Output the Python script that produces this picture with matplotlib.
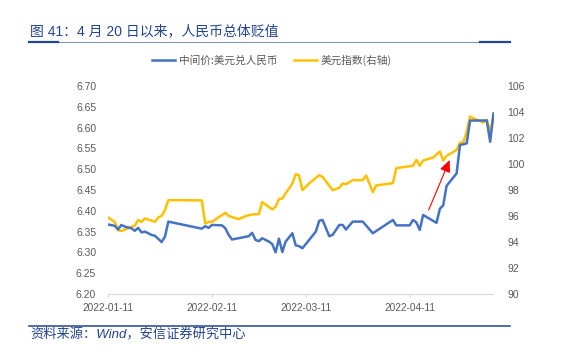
import matplotlib
matplotlib.use("Agg")
import matplotlib.pyplot as plt
import matplotlib.dates as mdates
from matplotlib.lines import Line2D
import pandas as pd

plt.rcParams['font.family'] = ['Liberation Sans', 'Noto Sans CJK SC', 'DejaVu Sans']

# 中间价: 美元兑人民币 (left axis)
cny_dates = [
    "2022-01-11", "2022-01-13", "2022-01-14", "2022-01-15", "2022-01-16", "2022-01-18",
    "2022-01-19", "2022-01-20", "2022-01-21", "2022-01-22", "2022-01-24", "2022-01-25",
    "2022-01-27", "2022-01-28", "2022-01-29", "2022-02-08", "2022-02-09", "2022-02-10",
    "2022-02-11", "2022-02-14", "2022-02-15", "2022-02-16", "2022-02-17", "2022-02-22",
    "2022-02-23", "2022-02-24", "2022-02-25", "2022-02-26", "2022-02-28", "2022-03-01",
    "2022-03-02", "2022-03-03", "2022-03-04", "2022-03-05", "2022-03-07", "2022-03-08",
    "2022-03-09", "2022-03-10", "2022-03-12", "2022-03-14", "2022-03-15", "2022-03-16",
    "2022-03-18", "2022-03-19", "2022-03-21", "2022-03-22", "2022-03-23", "2022-03-25",
    "2022-03-28", "2022-03-31", "2022-04-06", "2022-04-07", "2022-04-11", "2022-04-12",
    "2022-04-13", "2022-04-14", "2022-04-15", "2022-04-19", "2022-04-20", "2022-04-21",
    "2022-04-22", "2022-04-25", "2022-04-26", "2022-04-27", "2022-04-28", "2022-04-29",
    "2022-05-04", "2022-05-05", "2022-05-06",
]
cny_values = [
    6.367, 6.364, 6.355, 6.366, 6.362, 6.358,
    6.352, 6.359, 6.348, 6.350, 6.342, 6.340,
    6.325, 6.338, 6.374, 6.357, 6.363, 6.359,
    6.366, 6.365, 6.358, 6.342, 6.331, 6.339,
    6.347, 6.330, 6.327, 6.334, 6.326, 6.320,
    6.300, 6.333, 6.301, 6.326, 6.346, 6.317,
    6.315, 6.310, 6.330, 6.350, 6.376, 6.378,
    6.339, 6.342, 6.366, 6.366, 6.355, 6.374,
    6.374, 6.346, 6.378, 6.365, 6.365, 6.378,
    6.372, 6.354, 6.390, 6.371, 6.405, 6.413,
    6.460, 6.490, 6.558, 6.560, 6.562, 6.617,
    6.617, 6.566, 6.634,
]

# 美元指数 (right axis)
dxy_dates = [
    "2022-01-11", "2022-01-13", "2022-01-14", "2022-01-15", "2022-01-18", "2022-01-19",
    "2022-01-20", "2022-01-21", "2022-01-22", "2022-01-25", "2022-01-26", "2022-01-27",
    "2022-01-28", "2022-01-29", "2022-02-08", "2022-02-09", "2022-02-10", "2022-02-11",
    "2022-02-15", "2022-02-16", "2022-02-19", "2022-02-21", "2022-02-23", "2022-02-25",
    "2022-02-26", "2022-03-01", "2022-03-02", "2022-03-03", "2022-03-04", "2022-03-05",
    "2022-03-07", "2022-03-08", "2022-03-09", "2022-03-10", "2022-03-12", "2022-03-15",
    "2022-03-16", "2022-03-19", "2022-03-21", "2022-03-22", "2022-03-23", "2022-03-25",
    "2022-03-28", "2022-03-29", "2022-03-31", "2022-04-01", "2022-04-06", "2022-04-07",
    "2022-04-09", "2022-04-12", "2022-04-13", "2022-04-14", "2022-04-15", "2022-04-18",
    "2022-04-20", "2022-04-21", "2022-04-22", "2022-04-25", "2022-04-26", "2022-04-27",
    "2022-04-28", "2022-04-29", "2022-04-30", "2022-05-03", "2022-05-04", "2022-05-05",
    "2022-05-06",
]
dxy_values = [
    95.89, 95.55, 94.92, 94.84, 95.17, 95.25,
    95.69, 95.55, 95.81, 95.55, 95.89, 96.01,
    96.45, 97.22, 97.20, 95.43, 95.55, 95.55,
    96.25, 96.00, 95.76, 95.99, 96.12, 96.14,
    97.07, 96.51, 96.71, 97.30, 97.35, 97.74,
    98.50, 99.22, 99.12, 97.99, 98.50, 99.14,
    99.01, 97.99, 98.17, 98.50, 98.45, 98.76,
    98.76, 99.12, 97.84, 98.35, 98.53, 99.68,
    99.76, 99.86, 100.32, 99.86, 100.27, 100.50,
    100.96, 100.27, 100.62, 101.08, 101.65, 101.65,
    102.50, 103.65, 103.52, 103.19, 103.40, 102.50,
    103.60,
]

x_ticks = ["2022-01-11", "2022-02-11", "2022-03-11", "2022-04-11"]
left_ticks = [6.20, 6.25, 6.30, 6.35, 6.40, 6.45, 6.50, 6.55, 6.60, 6.65, 6.70]
right_ticks = [90, 92, 94, 96, 98, 100, 102, 104, 106]

title = "图 41：4 月 20 日以来，人民币总体贬值"
source = "资料来源：Wind，安信证券研究中心"
cny_label = "中间价:美元兑人民币"
dxy_label = "美元指数(右轴)"

# annotation arrow (tail -> head), in date / left-axis units
arrow_tail = ("2022-04-16 16:00", 6.402)
arrow_head = ("2022-04-22 22:00", 6.522)

BLUE = "#4472C4"
GOLD = "#FFC000"
GREY = "#595959"
NAVY = "#23448f"

W, H = 584, 347
fig = plt.figure(figsize=(W / 100, H / 100), dpi=100)
ax = fig.add_axes([108 / W, 1 - 294 / H, 385.5 / W, 208 / H])
ax2 = ax.twinx()

cd = pd.to_datetime(cny_dates)
dd = pd.to_datetime(dxy_dates)
ax.plot(cd, cny_values, color=BLUE, lw=1.8, solid_joinstyle='round', zorder=3)
ax2.plot(dd, dxy_values, color=GOLD, lw=1.8, solid_joinstyle='round', zorder=2)
ax.set_zorder(ax2.get_zorder() + 1)
ax.patch.set_visible(False)

ax.set_xlim(pd.Timestamp("2022-01-11"), pd.Timestamp("2022-05-06"))
ax.set_ylim(6.20, 6.70)
ax2.set_ylim(90, 106)
ax.set_yticks(left_ticks)
ax.set_yticklabels([f"{v:.2f}" for v in left_ticks])
ax2.set_yticks(right_ticks)
ax2.set_yticklabels([str(v) for v in right_ticks])
ax.set_xticks(pd.to_datetime(x_ticks))
ax.xaxis.set_major_formatter(mdates.DateFormatter("%Y-%m-%d"))

for a in (ax, ax2):
    for s in a.spines.values():
        s.set_visible(False)
ax.spines['bottom'].set_visible(True)
ax.spines['bottom'].set_color("#d9d9d9")
ax.spines['bottom'].set_linewidth(0.8)

ax.tick_params(axis='y', length=0, pad=8.5, labelsize=7.5, labelcolor=GREY)
ax2.tick_params(axis='y', length=0, pad=10, labelsize=7.5, labelcolor=GREY)
ax.tick_params(axis='x', length=2.5, width=0.8, color="#d9d9d9", pad=4,
               labelsize=7.3, labelcolor=GREY)

ax.annotate("", xy=(pd.Timestamp(arrow_head[0]), arrow_head[1]),
            xytext=(pd.Timestamp(arrow_tail[0]), arrow_tail[1]),
            arrowprops=dict(arrowstyle="-|>,head_length=0.9,head_width=0.4",
                            color="#ff0000", lw=0.8, mutation_scale=8,
                            shrinkA=0, shrinkB=0),
            zorder=5)

# legend
handles = [Line2D([], [], color=BLUE, lw=1.8), Line2D([], [], color=GOLD, lw=1.8)]
fig.legend(handles, [cny_label, dxy_label], loc='center',
           bbox_to_anchor=(272 / W, 1 - 60 / H), ncol=2, frameon=False,
           prop={'family': ['Noto Sans CJK SC'], 'size': 7.7}, labelcolor=GREY,
           handlelength=2.15, handletextpad=0.35, columnspacing=1.5)

# title and rules
fig.text(30 / W, 1 - 31 / H, title, ha='left', va='center', color=NAVY,
         fontsize=10, fontweight='medium', family=['Liberation Sans', 'Noto Sans CJK SC'])
yl = 1 - 41.7 / H
fig.add_artist(Line2D([29 / W, 510 / W], [yl, yl], color="#5b7bbd", lw=0.6))
fig.add_artist(Line2D([29 / W, 58 / W], [yl, yl], color=NAVY, lw=1.6))
fig.add_artist(Line2D([480 / W, 510 / W], [yl, yl], color=NAVY, lw=1.6))
yb = 1 - 325.7 / H
fig.add_artist(Line2D([29 / W, 510 / W], [yb, yb], color=NAVY, lw=1.1))
fig.text(30 / W, 1 - 335.5 / H, source, ha='left', va='center', color=NAVY,
         fontsize=9.5, fontstyle='italic', family=['Liberation Sans', 'Noto Sans CJK SC'])

fig.savefig("out.png", dpi=100)
